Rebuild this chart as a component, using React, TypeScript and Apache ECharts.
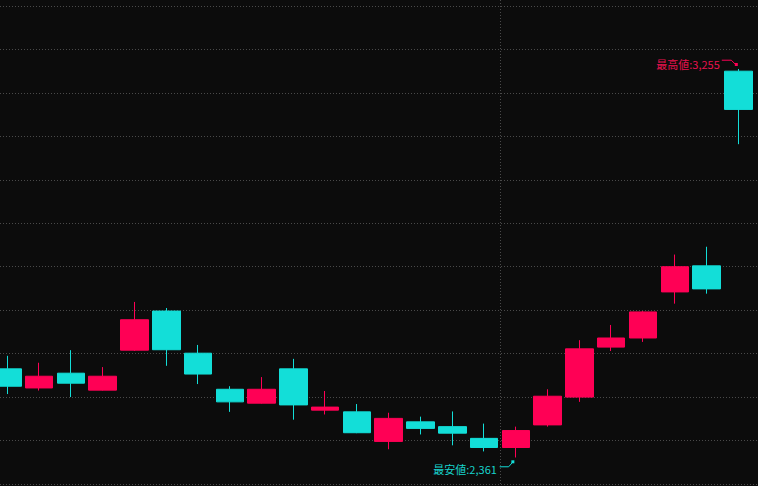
import React, { useEffect, useRef } from "react";
import * as echarts from "echarts";

const categories = [
  "1", "2", "3", "4", "5", "6", "7", "8", "9", "10", "11", "12",
  "13", "14", "15", "16", "17", "18", "19", "20", "21", "22", "23", "24",
];
const openValues = [
  2565, 2521, 2555, 2516, 2608, 2698, 2601, 2518, 2486, 2565, 2470, 2466,
  2398, 2443, 2432, 2405, 2384, 2436, 2500, 2615, 2636, 2742, 2802, 3250,
];
const closeValues = [
  2525, 2548, 2532, 2548, 2678, 2609, 2553, 2489, 2518, 2482, 2477, 2418,
  2451, 2428, 2417, 2384, 2423, 2502, 2611, 2636, 2696, 2800, 2749, 3162,
];
const lowValues = [
  2507, 2515, 2500, 2515, 2606, 2572, 2530, 2466, 2485, 2448, 2460, 2417,
  2380, 2414, 2389, 2375, 2361, 2432, 2489, 2606, 2627, 2715, 2738, 3082,
];
const highValues = [
  2595, 2579, 2608, 2569, 2719, 2705, 2620, 2525, 2546, 2588, 2514, 2484,
  2464, 2455, 2467, 2439, 2432, 2518, 2631, 2666, 2698, 2828, 2846, 3255,
];

const yMin = 2300;
const yMax = 3400;
const yInterval = 100;

const highestIndex = 23;
const highestValue = 3255;
const highestText = "最高値:3,255";
const lowestIndex = 16;
const lowestValue = 2361;
const lowestText = "最安値:2,361";
const dividerIndex = 16;

const UP = "#ff0055";
const DOWN = "#13ded8";
const GRID = "#4a4a4a";
const FONT = '11px "Noto Sans CJK JP", "Noto Sans", sans-serif';

export default function App() {
  const ref = useRef<HTMLDivElement>(null);

  useEffect(() => {
    document.body.style.margin = "0";
    if (!ref.current) return;
    const chart = echarts.init(ref.current, undefined, { renderer: "svg" });
    const data = categories.map((_, i) => [
      openValues[i],
      closeValues[i],
      lowValues[i],
      highValues[i],
    ]);
    chart.setOption({
      animation: false,
      backgroundColor: "#0c0c0c",
      grid: [
        { left: -8.5, right: 3.8, top: 6, bottom: 2, outerBoundsMode: "none", containLabel: false },
        { left: 0, right: 0, top: 6, bottom: 2, outerBoundsMode: "none", containLabel: false },
      ],
      xAxis: [
        { type: "category", data: categories, gridIndex: 0, show: false, boundaryGap: true },
        { type: "value", gridIndex: 1, show: false, min: 0, max: 1 },
      ],
      yAxis: [
        { type: "value", gridIndex: 0, min: yMin, max: yMax, interval: yInterval, show: false },
        {
          type: "value",
          gridIndex: 1,
          min: yMin,
          max: yMax,
          interval: yInterval,
          axisLabel: { show: false },
          axisLine: { show: false },
          axisTick: { show: false },
          splitLine: { show: true, lineStyle: { color: GRID, type: [1, 2], width: 1 } },
        },
      ],
      series: [
        {
          type: "candlestick",
          xAxisIndex: 0,
          yAxisIndex: 0,
          data,
          barWidth: 28,
          itemStyle: {
            color: UP,
            color0: DOWN,
            borderColor: UP,
            borderColor0: DOWN,
            borderWidth: 1,
          },
        },
      ],
    });

    const [hx, hy] = chart.convertToPixel({ gridIndex: 0 }, [highestIndex, highestValue]) as number[];
    const [lx, ly] = chart.convertToPixel({ gridIndex: 0 }, [lowestIndex, lowestValue]) as number[];
    const [ax] = chart.convertToPixel({ gridIndex: 0 }, [dividerIndex - 1, yMin]) as number[];
    const [bx] = chart.convertToPixel({ gridIndex: 0 }, [dividerIndex, yMin]) as number[];
    const vx = Math.round((ax + bx) / 2) + 0.5;
    const H = chart.getHeight();

    chart.setOption({
      graphic: [
        {
          type: "line",
          shape: { x1: vx, y1: 0, x2: vx, y2: H },
          style: { stroke: GRID, lineWidth: 1, lineDash: [1, 2] },
          z: 1,
        },
        {
          type: "text",
          x: hx - 18.5,
          y: hy - 5.5,
          style: {
            text: highestText,
            fill: "#e8124f",
            font: FONT,
            align: "right",
            verticalAlign: "middle",
          },
          z: 10,
        },
        {
          type: "polyline",
          shape: { points: [[hx - 16.5, hy - 8.8], [hx - 7, hy - 8.8], [hx - 2, hy - 3.8]] },
          style: { stroke: UP, lineWidth: 1, fill: "none" },
          z: 10,
        },
        {
          type: "rect",
          shape: { x: hx - 3.5, y: hy - 6, width: 3, height: 3 },
          style: { fill: UP },
          z: 10,
        },
        {
          type: "text",
          x: lx - 19,
          y: ly + 11.5,
          style: {
            text: lowestText,
            fill: "#17d2cb",
            font: FONT,
            align: "right",
            verticalAlign: "middle",
          },
          z: 10,
        },
        {
          type: "polyline",
          shape: { points: [[lx - 16.2, ly + 9.3], [lx - 7.2, ly + 9.3], [lx - 2.8, ly + 4.3]] },
          style: { stroke: DOWN, lineWidth: 1, fill: "none" },
          z: 10,
        },
        {
          type: "rect",
          shape: { x: lx - 4.5, y: ly + 2.8, width: 3, height: 3 },
          style: { fill: DOWN },
          z: 10,
        },
      ],
    });

    return () => chart.dispose();
  }, []);

  return (
    <div
      ref={ref}
      style={{ position: "fixed", left: 0, top: 0, width: 758, height: 486 }}
    />
  );
}
